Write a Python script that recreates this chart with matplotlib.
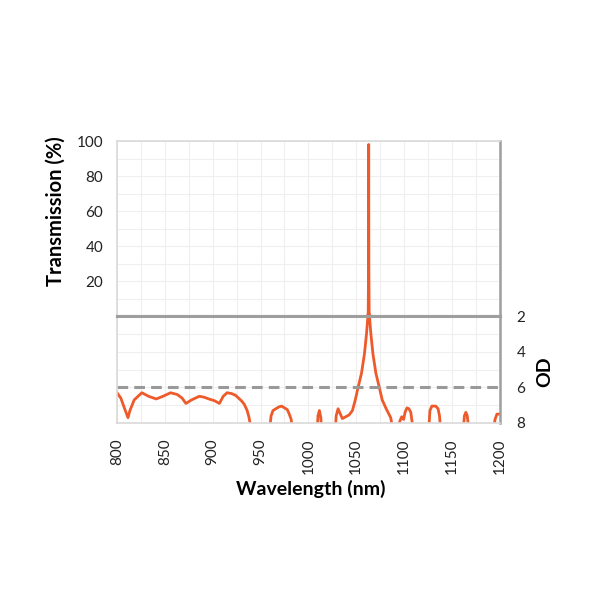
import matplotlib
matplotlib.use("Agg")
import matplotlib.pyplot as plt

plt.rcParams['font.family'] = ['Lato', 'DejaVu Sans']

# transmission spike (top panel, %)
wl_t = [1061.8, 1062.5, 1062.8, 1063.0, 1063.2, 1063.5, 1064.2]
trans = [0, 2, 25, 98, 25, 2, 0]

# optical density (bottom panel); values > 8 fall below the axis
wl_od = [800, 804, 808, 811.5, 813.5, 818, 822, 826, 833, 841, 848, 856, 863, 868,
         872, 878, 886, 891, 896, 902, 907, 911, 915, 920, 924, 930, 933, 936, 938, 941,
         959, 961, 963, 966, 969, 972, 975, 978, 980, 982, 984,
         1009, 1010, 1011.5, 1013, 1014,
         1028, 1029, 1031, 1033, 1035.5, 1039, 1042.5, 1046, 1049, 1051.7, 1055.5,
         1058.6, 1060.7, 1062.2, 1063, 1063.8, 1065.3, 1067.4, 1070.5, 1074.3, 1077.1,
         1081.3, 1086, 1089,
         1093.5, 1095.5, 1097.5, 1099.5, 1101, 1103, 1105, 1107, 1108, 1110,
         1125.5, 1127, 1129, 1133, 1135.5, 1137, 1138.5,
         1161.5, 1163, 1164.5, 1166, 1168,
         1193, 1195, 1197, 1200]
od = [6.3, 6.6, 7.2, 7.7, 7.3, 6.7, 6.5, 6.3, 6.5, 6.65, 6.5, 6.3, 6.4, 6.6,
      6.9, 6.7, 6.5, 6.55, 6.65, 6.75, 6.9, 6.5, 6.3, 6.35, 6.45, 6.75, 6.95, 7.3, 7.7, 8.6,
      8.6, 7.6, 7.3, 7.2, 7.1, 7.05, 7.15, 7.25, 7.5, 7.8, 8.6,
      8.6, 7.6, 7.3, 7.7, 8.6,
      8.6, 7.6, 7.2, 7.45, 7.75, 7.65, 7.55, 7.3, 6.7, 6.05, 5.2,
      4.1, 3.0, 2.0, 1.0, 2.0, 3.0, 4.1, 5.2, 6.05, 6.7,
      7.2, 7.7, 8.6,
      8.6, 7.9, 7.65, 7.8, 7.4, 7.15, 7.2, 7.4, 7.8, 8.6,
      8.6, 7.3, 7.05, 7.05, 7.2, 7.6, 8.6,
      8.6, 7.6, 7.4, 7.6, 8.6,
      8.6, 7.8, 7.5, 7.5]

od_limit = 6
x_ticks = [800, 850, 900, 950, 1000, 1050, 1100, 1150, 1200]
t_ticks = [20, 40, 60, 80, 100]
od_ticks = [2, 4, 6, 8]

line_col = '#EE5A2A'
light = '#D9D9D9'
dark = '#9E9E9E'
grid_col = '#EFEFEF'

fig = plt.figure(figsize=(6, 6), dpi=100)
ax1 = fig.add_axes([0.195, 0.473, 0.638, 0.292])
ax2 = fig.add_axes([0.195, 0.295, 0.638, 0.178])

for ax in (ax1, ax2):
    ax.set_xlim(800, 1200)
    ax.set_xticks(range(800, 1201, 25), minor=False)
    ax.grid(True, color=grid_col, lw=0.8)
    ax.set_axisbelow(True)
    for s in ('left', 'top', 'bottom'):
        ax.spines[s].set_color(light)
        ax.spines[s].set_linewidth(1.2)
    ax.spines['right'].set_color(dark)
    ax.spines['right'].set_linewidth(1.8)
    ax.tick_params(length=0, labelsize=11, colors='#222222')

# top panel
ax1.plot(wl_t, trans, color=line_col, lw=2.0)
ax1.set_ylim(0, 100)
ax1.set_yticks(range(0, 101, 10))
ax1.set_yticklabels([str(v) if v in t_ticks else '' for v in range(0, 101, 10)])
ax1.tick_params(axis='y', pad=10)
ax1.tick_params(axis='x', labelbottom=False)
ax1.spines['bottom'].set_color(dark)
ax1.spines['bottom'].set_linewidth(2.2)

# bottom panel
ax2.plot(wl_od, od, color=line_col, lw=2.0)
ax2.axhline(od_limit, color='#999999', lw=2.2, dashes=(3.5, 2))
ax2.set_ylim(8, 2)
ax2.set_yticks(range(2, 9))
ax2.yaxis.tick_right()
ax2.set_yticklabels([str(v) if v in od_ticks else '' for v in range(2, 9)])
ax2.tick_params(axis='y', pad=12)
ax2.spines['top'].set_color(dark)
ax2.spines['top'].set_linewidth(2.2)
ax2.set_xticklabels([str(v) if v in x_ticks else '' for v in range(800, 1201, 25)],
                    rotation=90)
ax2.tick_params(axis='x', pad=11)

fig.text(0.092, 0.648, 'Transmission (%)', rotation=90, ha='center', va='center',
         fontsize=14.5, fontweight='bold')
fig.text(0.908, 0.38, 'OD', rotation=90, ha='center', va='center',
         fontsize=14, fontweight='bold')
fig.text(0.518, 0.185, 'Wavelength (nm)', ha='center', va='center',
         fontsize=14, fontweight='bold')

fig.savefig('out.png', dpi=100, facecolor='white')
